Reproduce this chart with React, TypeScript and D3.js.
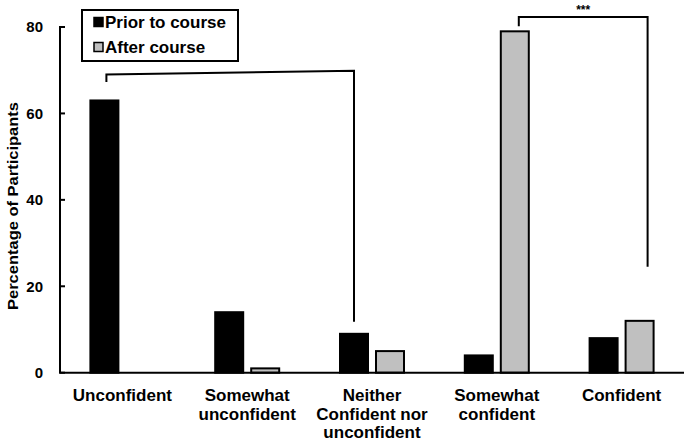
import React from "react";
import * as d3 from "d3";

const categories = [
  ["Unconfident"],
  ["Somewhat", "unconfident"],
  ["Neither", "Confident nor", "unconfident"],
  ["Somewhat", "confident"],
  ["Confident"],
];
const catKeys = ["Unconfident", "Somewhat unconfident", "Neither", "Somewhat confident", "Confident"];
const seriesNames = ["Prior to course", "After course"];
const priorValues = [63, 14, 9, 4, 8];
const afterValues = [0, 1, 5, 79, 12];
const yTicks = [0, 20, 40, 60, 80];
const colors = ["#000000", "#c0c0c0"];

// significance brackets (values in data units)
const brackets = [
  { from: [0, 0], to: [2, 0], leftY: 69.0, rightY: 69.9, leftEnd: 67.3, rightEnd: 11.8, dxL: 2, dxR: 0, label: "" },
  { from: [3, 1], to: [4, 1], leftY: 82.3, rightY: 82.3, leftEnd: 80.2, rightEnd: 24.5, dxL: 4, dxR: 8, label: "***" },
];

const W = 687;
const H = 443;
const FONT = "'Liberation Sans', Arial, sans-serif";

export default function App() {
  const x = d3.scaleBand<string>().domain(catKeys).range([60, 684]).padding(0);
  const sub = d3.scaleBand<string>().domain(seriesNames).range([0, 64]).paddingInner(8 / 36);
  const y = d3.scaleLinear().domain([0, 80]).range([372.7, 27]);
  const bw = sub.bandwidth();
  const groupStart = (i: number) => (x(catKeys[i]) as number) + x.bandwidth() / 2 - 32;
  const barX = (i: number, s: number) => groupStart(i) + (sub(seriesNames[s]) as number);
  const barCx = (i: number, s: number) => barX(i, s) + bw / 2;
  const data = [priorValues, afterValues];

  return (
    <svg width={W} height={H} style={{ position: "absolute", left: 0, top: 0, background: "#fff" }} fontFamily={FONT}>
      {/* bars */}
      {data.map((vals, s) =>
        vals.map((v, i) =>
          v > 0 ? (
            <rect
              key={`${s}-${i}`}
              x={barX(i, s)}
              y={y(v)}
              width={bw}
              height={y(0) - y(v)}
              fill={colors[s]}
              stroke="#000"
              strokeWidth={2}
            />
          ) : null
        )
      )}
      {/* axes */}
      <line x1={60} x2={60} y1={y(80) - 1} y2={y(0)} stroke="#000" strokeWidth={2} />
      <line x1={59} x2={684} y1={y(0)} y2={y(0)} stroke="#000" strokeWidth={2} />
      {yTicks.map((t) => (
        <g key={t}>
          <line x1={60} x2={65} y1={y(t)} y2={y(t)} stroke="#000" strokeWidth={2} />
          <text x={43} y={y(t)} dy="0.36em" textAnchor="end" fontSize={15} fontWeight="bold">
            {t}
          </text>
        </g>
      ))}
      <text
        transform={`translate(12,206) rotate(-90)`}
        textAnchor="middle"
        dy="0.36em"
        fontSize={15.5}
        fontWeight="bold"
        textLength={208}
        lengthAdjust="spacingAndGlyphs"
      >
        Percentage of Participants
      </text>
      {/* category labels */}
      {categories.map((lines, i) => (
        <text
          key={i}
          x={(x(catKeys[i]) as number) + x.bandwidth() / 2}
          y={401}
          textAnchor="middle"
          fontSize={17}
          fontWeight="bold"
        >
          {lines.map((l, j) => (
            <tspan key={j} x={(x(catKeys[i]) as number) + x.bandwidth() / 2} dy={j === 0 ? 0 : 18.7}>
              {l}
            </tspan>
          ))}
        </text>
      ))}
      {/* brackets */}
      {brackets.map((b, k) => {
        const x1 = barCx(b.from[0], b.from[1]) + b.dxL;
        const x2 = barCx(b.to[0], b.to[1]) + b.dxR;
        const path = d3.path();
        path.moveTo(x1, y(b.leftEnd));
        path.lineTo(x1, y(b.leftY));
        path.lineTo(x2, y(b.rightY));
        path.lineTo(x2, y(b.rightEnd));
        return (
          <g key={k}>
            <path d={path.toString()} fill="none" stroke="#000" strokeWidth={2} />
            {b.label && (
              <text x={(x1 + x2) / 2} y={y(b.leftY) - 3} textAnchor="middle" fontSize={12} fontWeight="bold">
                {b.label}
              </text>
            )}
          </g>
        );
      })}
      {/* legend */}
      <rect x={82} y={10} width={156} height={51} fill="#fff" stroke="#000" strokeWidth={2} />
      {seriesNames.map((n, s) => (
        <g key={n} transform={`translate(94,${22 + s * 25})`}>
          <rect x={0} y={-4.5} width={9} height={9} fill={colors[s]} stroke="#000" strokeWidth={1.5} />
          <text x={11} y={0} dy="0.36em" fontSize={17} fontWeight="bold">
            {n}
          </text>
        </g>
      ))}
    </svg>
  );
}
